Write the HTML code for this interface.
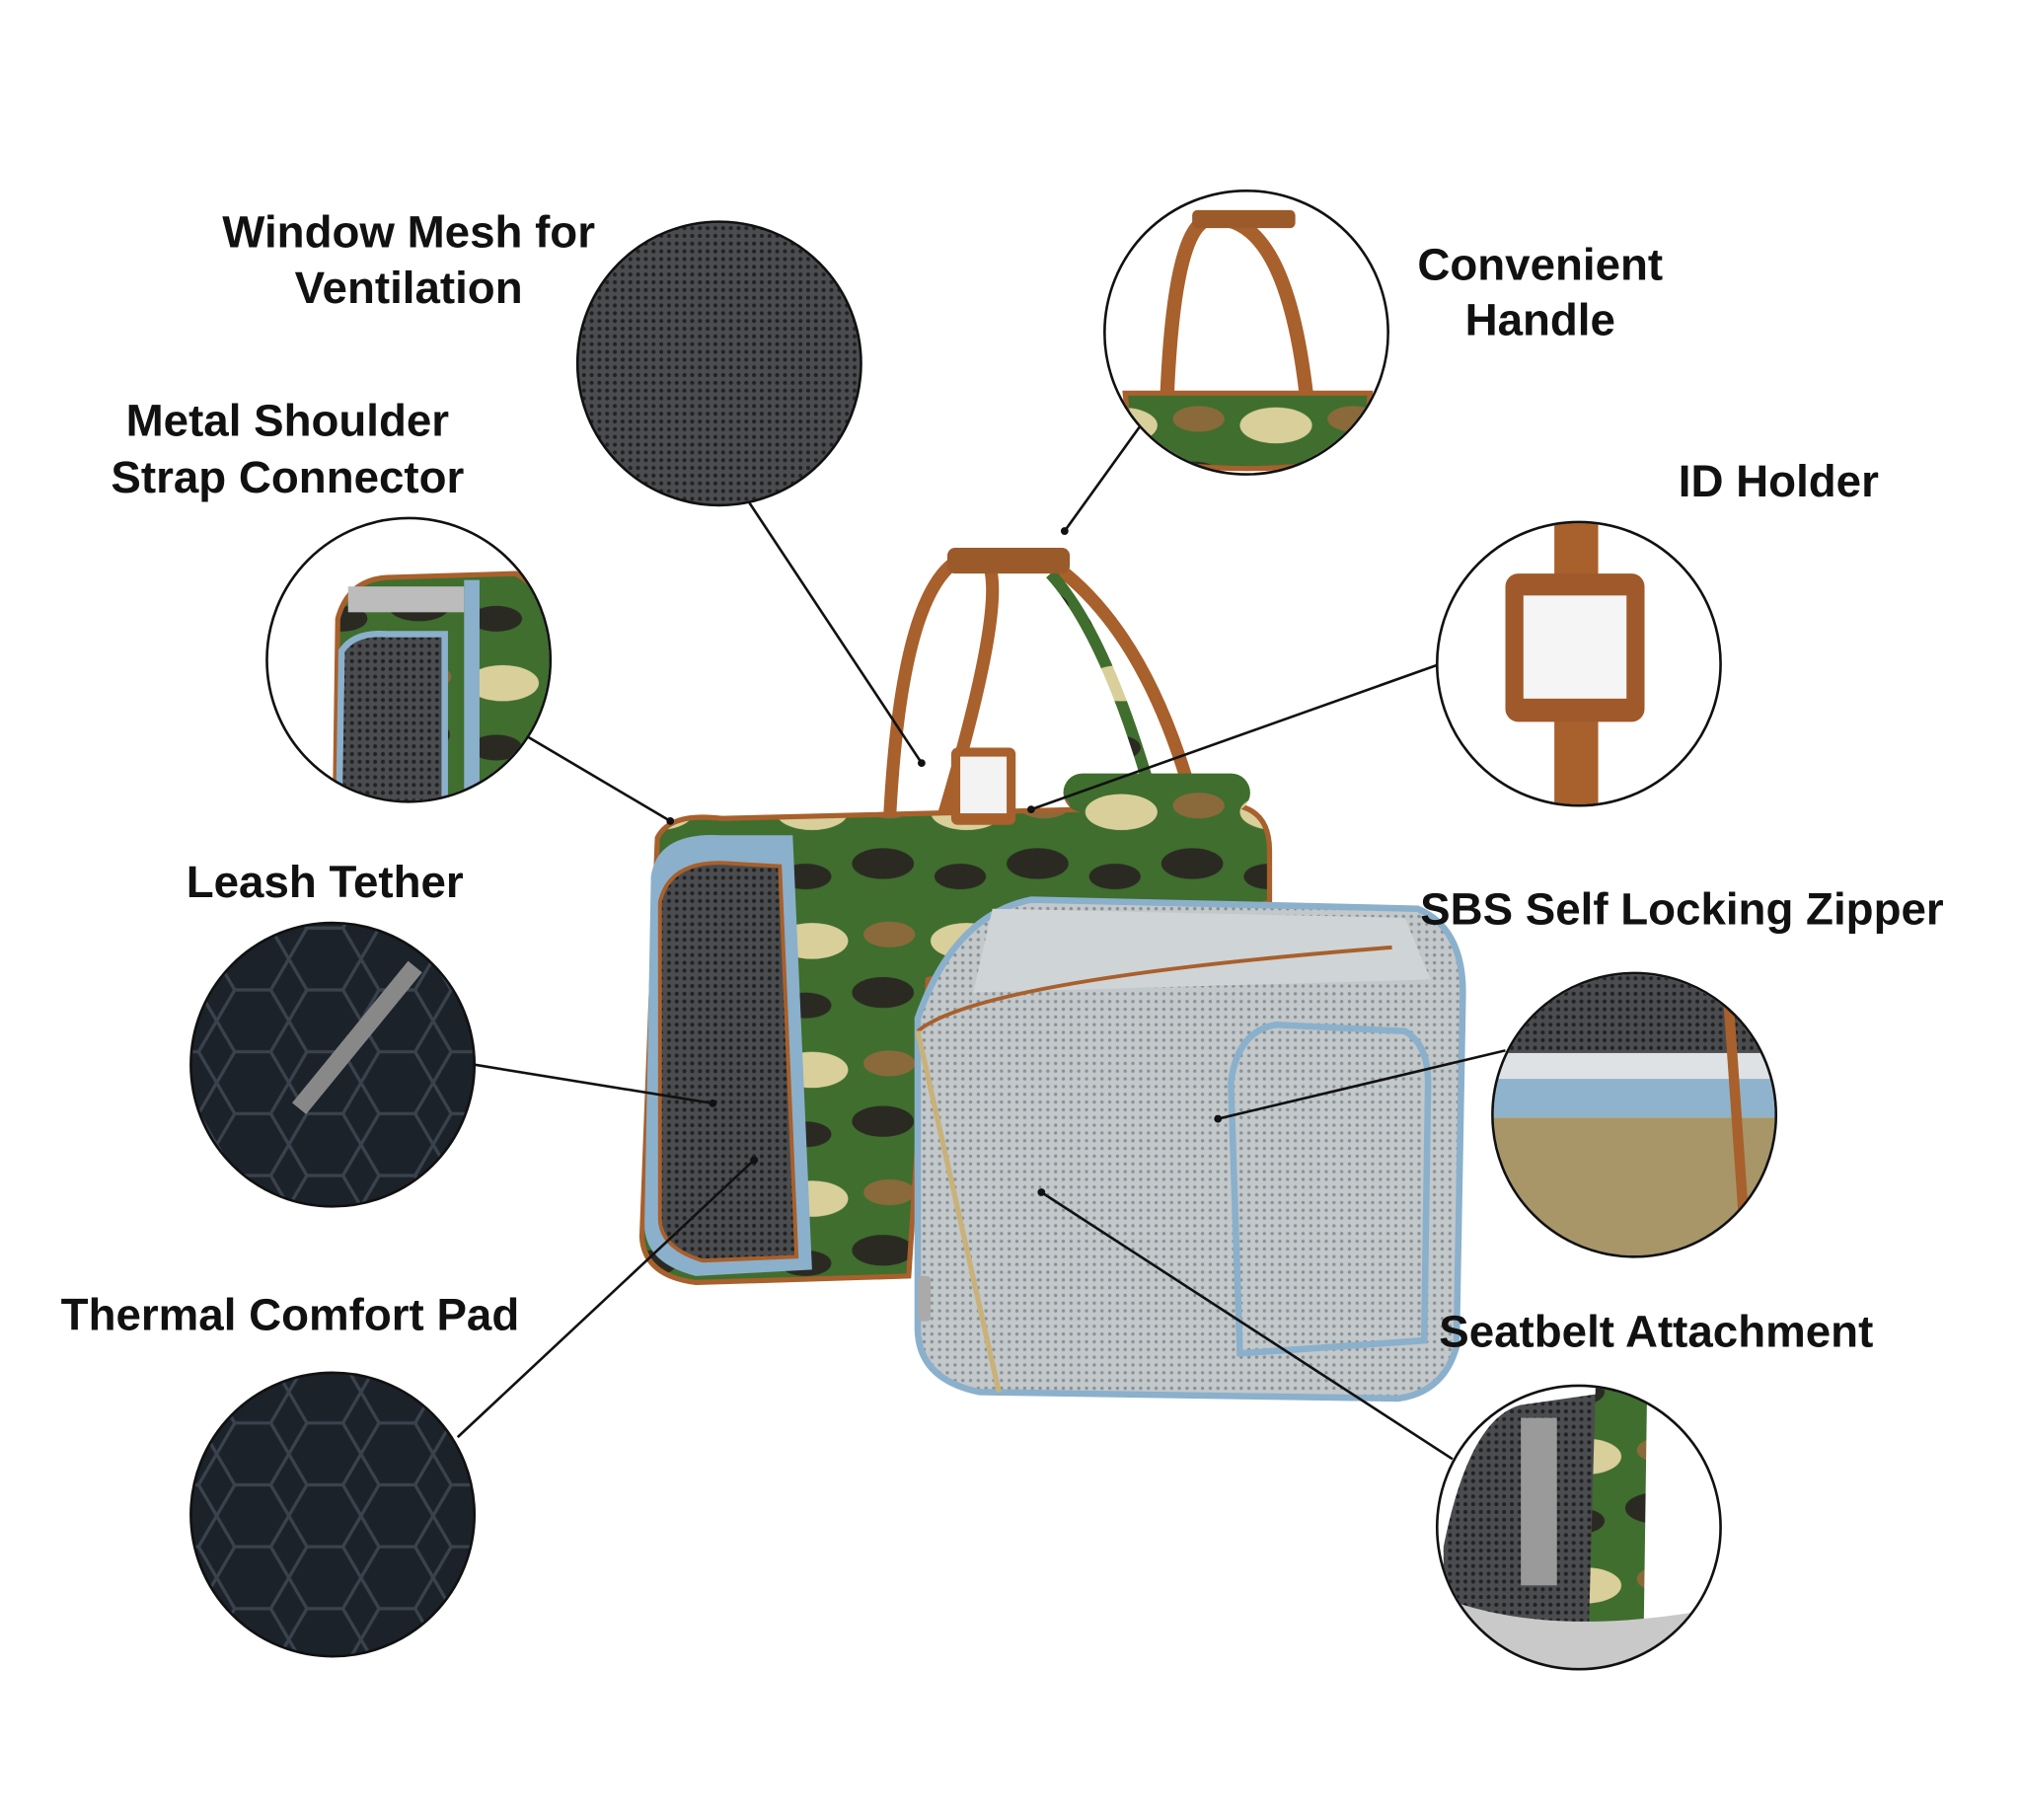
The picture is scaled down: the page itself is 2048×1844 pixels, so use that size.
<!DOCTYPE html>
<html><head><meta charset="utf-8"><style>
html,body{margin:0;padding:0;background:#fff;}
svg{display:block;}
text{font-family:"Liberation Sans",sans-serif;font-weight:bold;fill:#111;font-size:35px;text-anchor:middle;}
</style></head><body>
<svg width="2048" height="1844" viewBox="0 0 1568 1412" xmlns="http://www.w3.org/2000/svg">
<defs>
<pattern id="mesh" width="6" height="6" patternUnits="userSpaceOnUse"><rect width="6" height="6" fill="#4a4c4f"/><circle cx="3" cy="3" r="1.6" fill="#222"/></pattern>
<pattern id="lmesh" width="6" height="6" patternUnits="userSpaceOnUse"><rect width="6" height="6" fill="#c3c8cb"/><circle cx="3" cy="3" r="1.3" fill="#8a9094"/></pattern>
<pattern id="hex" width="56" height="48" patternUnits="userSpaceOnUse"><rect width="56" height="48" fill="#1c2229"/><path d="M0 24 L14 0 L42 0 L56 24 L42 48 L14 48 Z" fill="none" stroke="#3a434d" stroke-width="2.5"/></pattern>
<pattern id="camo" width="120" height="100" patternUnits="userSpaceOnUse"><rect width="120" height="100" fill="#3f6e2e"/><ellipse cx="30" cy="30" rx="28" ry="14" fill="#d9cf9a"/><ellipse cx="85" cy="70" rx="24" ry="12" fill="#2a2a22"/><ellipse cx="90" cy="25" rx="20" ry="10" fill="#8a6a3a"/><ellipse cx="25" cy="80" rx="20" ry="10" fill="#2a2a22"/></pattern>
<clipPath id="cH"><circle cx="967" cy="258" r="109"/></clipPath>
<clipPath id="cM"><circle cx="317" cy="512" r="109"/></clipPath>
<clipPath id="cI"><circle cx="1225" cy="515" r="109"/></clipPath>
<clipPath id="cZ"><circle cx="1268" cy="865" r="109"/></clipPath>
<clipPath id="cS"><circle cx="1225" cy="1185" r="109"/></clipPath>
</defs>

<!-- bag -->
<path d="M690 640 Q700 430 760 430 Q790 440 730 640" fill="none" stroke="#a8602c" stroke-width="10"/>
<path d="M820 440 Q900 500 935 660" fill="none" stroke="#a8602c" stroke-width="10"/>
<path d="M815 445 Q865 500 905 660" fill="none" stroke="url(#camo)" stroke-width="9"/>
<rect x="735" y="425" width="95" height="20" rx="6" fill="#9b5a2a"/>
<path d="M510 650 Q520 630 560 635 L960 625 Q985 630 985 660 L985 700 L720 760 L705 990 L540 995 Q500 990 498 960 Z" fill="url(#camo)" stroke="#a8602c" stroke-width="4"/>
<path d="M505 680 Q510 645 560 648 L615 648 L630 985 L540 990 Q500 980 500 950 Z" fill="#8ab0cc"/>
<path d="M512 700 Q520 665 570 670 L605 672 L618 975 L545 978 Q512 968 512 945 Z" fill="url(#mesh)" stroke="#a8602c" stroke-width="3"/>
<rect x="825" y="600" width="145" height="30" rx="15" fill="url(#camo)"/>
<rect x="738" y="580" width="50" height="60" rx="5" fill="#a8602c"/><rect x="745" y="587" width="36" height="44" fill="#f3f3f3"/>
<path d="M712 790 Q740 710 800 698 L1100 705 Q1135 720 1135 770 L1130 1045 Q1120 1080 1085 1085 L760 1080 Q712 1070 712 1030 Z" fill="url(#lmesh)" stroke="#8ab0cc" stroke-width="5"/>
<path d="M770 705 L1090 712 L1110 760 L755 770 Z" fill="#cfd4d6"/>
<path d="M955 840 Q960 800 990 795 L1090 800 Q1108 810 1108 840 L1105 1040 L962 1050 Z" fill="url(#lmesh)" stroke="#8ab0cc" stroke-width="5"/>
<path d="M712 800 Q760 760 1080 735" fill="none" stroke="#a8602c" stroke-width="3"/>
<line x1="712" y1="800" x2="775" y2="1080" stroke="#c9b27a" stroke-width="4"/>
<rect x="712" y="990" width="10" height="35" rx="3" fill="#aaa"/>

<!-- lines -->
<g stroke="#111" stroke-width="2" fill="none">
<line x1="580" y1="388" x2="715" y2="592"/>
<line x1="885" y1="330" x2="826" y2="412"/>
<line x1="410" y1="572" x2="520" y2="637"/>
<line x1="1115" y1="516" x2="800" y2="628"/>
<line x1="368" y1="826" x2="553" y2="856"/>
<line x1="1168" y1="815" x2="945" y2="868"/>
<line x1="355" y1="1115" x2="585" y2="900"/>
<line x1="1127" y1="1132" x2="808" y2="925"/>
</g>
<g fill="#111"><circle cx="715" cy="592" r="3"/><circle cx="826" cy="412" r="3"/><circle cx="520" cy="637" r="3"/><circle cx="800" cy="628" r="3"/><circle cx="553" cy="856" r="3"/><circle cx="945" cy="868" r="3"/><circle cx="585" cy="900" r="3"/><circle cx="808" cy="925" r="3"/></g>

<!-- circles -->
<circle cx="558" cy="282" r="110" fill="url(#mesh)" stroke="#111" stroke-width="2"/>
<circle cx="967" cy="258" r="110" fill="#fff"/>
<g clip-path="url(#cH)">
<path d="M905 320 Q910 170 940 170 Q1000 165 1015 320" fill="none" stroke="#a8602c" stroke-width="11"/>
<rect x="925" y="163" width="80" height="14" rx="4" fill="#9b5a2a"/>
<path d="M873 305 L1063 305 L1058 355 Q967 372 878 355 Z" fill="url(#camo)" stroke="#a8602c" stroke-width="4"/>
</g>
<circle cx="967" cy="258" r="110" fill="none" stroke="#111" stroke-width="2"/>
<circle cx="317" cy="512" r="110" fill="#fff"/>
<g clip-path="url(#cM)">
<path d="M260 620 L262 480 Q270 450 300 448 L400 445 Q430 460 430 520 L420 620 Z" fill="url(#camo)" stroke="#a8602c" stroke-width="4"/>
<path d="M263 625 L265 505 Q275 490 300 492 L345 492 L345 625 Z" fill="url(#mesh)" stroke="#8ab0cc" stroke-width="5"/>
<rect x="270" y="455" width="90" height="20" fill="#bcbcbc"/>
<rect x="360" y="450" width="12" height="170" fill="#8ab0cc"/>
</g>
<circle cx="317" cy="512" r="110" fill="none" stroke="#111" stroke-width="2"/>
<circle cx="1225" cy="515" r="110" fill="#fff"/>
<g clip-path="url(#cI)">
<rect x="1206" y="400" width="34" height="230" fill="#a8602c"/>
<rect x="1168" y="445" width="108" height="115" rx="10" fill="#a0592a"/>
<rect x="1182" y="462" width="80" height="80" fill="#f5f5f5"/>
</g>
<circle cx="1225" cy="515" r="110" fill="none" stroke="#111" stroke-width="2"/>
<circle cx="258" cy="826" r="110" fill="url(#hex)" stroke="#111" stroke-width="2"/>
<line x1="322" y1="750" x2="232" y2="860" stroke="#888" stroke-width="14"/>
<circle cx="1268" cy="865" r="110" fill="#fff"/>
<g clip-path="url(#cZ)">
<rect x="1158" y="755" width="220" height="62" fill="url(#mesh)"/>
<rect x="1158" y="817" width="220" height="20" fill="#dfe2e4"/>
<rect x="1158" y="837" width="220" height="30" fill="#8fb3cc"/>
<rect x="1158" y="867" width="220" height="110" fill="#a89668"/>
<line x1="1340" y1="760" x2="1355" y2="975" stroke="#a8602c" stroke-width="8"/>
</g>
<circle cx="1268" cy="865" r="110" fill="none" stroke="#111" stroke-width="2"/>
<circle cx="258" cy="1175" r="110" fill="url(#hex)" stroke="#111" stroke-width="2"/>
<circle cx="1225" cy="1185" r="110" fill="#fff"/>
<g clip-path="url(#cS)">
<path d="M1120 1200 Q1140 1100 1180 1090 L1250 1080 L1250 1270 Q1200 1290 1120 1260 Z" fill="url(#mesh)"/>
<path d="M1238 1075 L1278 1075 L1275 1290 L1232 1290 Z" fill="url(#camo)"/>
<rect x="1180" y="1100" width="28" height="130" fill="#9a9a9a"/>
<path d="M1120 1240 Q1200 1270 1320 1250 L1310 1300 Q1200 1300 1120 1280 Z" fill="#c9c9c9"/>
</g>
<circle cx="1225" cy="1185" r="110" fill="none" stroke="#111" stroke-width="2"/>

<!-- labels -->
<text x="317" y="192">Window Mesh for</text>
<text x="317" y="235">Ventilation</text>
<text x="1195" y="217">Convenient</text>
<text x="1195" y="260">Handle</text>
<text x="223" y="338">Metal Shoulder</text>
<text x="223" y="382">Strap Connector</text>
<text x="1380" y="385">ID Holder</text>
<text x="252" y="696">Leash Tether</text>
<text x="1305" y="717">SBS Self Locking Zipper</text>
<text x="225" y="1032">Thermal Comfort Pad</text>
<text x="1285" y="1045">Seatbelt Attachment</text>
</svg>
</body></html>
